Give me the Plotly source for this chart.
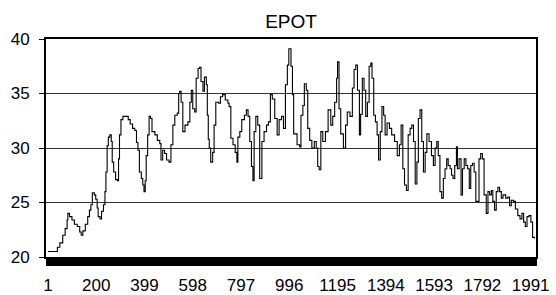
import plotly.graph_objects as go

# sample index (category) and EPOT value
step = [1, 33, 40, 50, 62, 72, 80, 83, 90, 100, 110, 122, 132, 138, 145, 155, 165, 172, 178, 184,
        192, 198, 204, 208, 216, 222, 230, 236, 240, 245, 250, 256, 262, 266, 272, 280, 288, 292, 296, 302,
        310, 322, 332,
        340, 350, 359, 366, 372, 378, 386, 392, 397, 402, 406, 412, 418, 424, 430, 442, 452, 462, 467, 474,
        482, 490, 500, 508, 516, 524, 534, 540, 544, 550, 557, 566, 578, 586, 592, 598, 606, 612, 620, 626,
        632, 640, 646, 654, 658, 662, 666,
        672, 680, 686, 693, 705, 712, 721, 732, 743, 748, 755, 764, 773, 780, 784, 792, 800, 811, 819, 826,
        833, 840, 846, 851, 858, 866, 874, 883, 892, 902, 910, 918, 926, 936, 946, 954, 964, 972, 980, 988,
        994, 998, 1003, 1009, 1014, 1028, 1039, 1044, 1052, 1058, 1066, 1072, 1080, 1089, 1099, 1107, 1113,
        1119, 1126, 1134, 1145, 1156, 1167, 1175, 1183, 1191, 1195, 1201, 1208, 1219, 1228, 1235, 1246, 1256,
        1263, 1270, 1277, 1285, 1290, 1297, 1304, 1311, 1318, 1325, 1332,
        1337, 1344, 1351, 1358, 1364, 1371, 1378, 1385, 1391, 1399, 1409, 1418, 1430, 1441, 1450, 1457, 1464,
        1471, 1479, 1486, 1494, 1501, 1508, 1515, 1522, 1528, 1535, 1542, 1549, 1556, 1563, 1572, 1582, 1590,
        1597, 1604, 1610, 1617, 1624, 1631, 1638, 1645, 1651, 1659,
        1665, 1671, 1678, 1685, 1689, 1696, 1704, 1710, 1717, 1724, 1731, 1738, 1744, 1751, 1758, 1765, 1773,
        1778, 1785, 1792, 1799, 1808, 1815, 1822, 1829, 1835, 1842, 1849, 1856, 1863, 1870, 1877, 1888, 1897,
        1904, 1911, 1920, 1928, 1938, 1947, 1955, 1962, 1969, 1976, 1984, 1992, 1999, 2007]

epot = [20.5, 20.5, 20.9, 21.3, 22.0, 22.6, 23.4, 24.0, 23.7, 23.4, 23.0, 22.8, 22.3, 22.0, 22.4, 23.0, 23.7, 24.3, 24.8, 25.9,
        25.7, 25.3, 24.5, 23.7, 23.5, 24.2, 24.8, 26.0, 27.8, 30.2, 31.0, 31.2, 30.6, 28.7, 27.8, 27.1, 27.0, 29.0, 31.2, 32.6,
        32.9, 32.9, 32.6,
        32.2, 31.8, 31.6, 30.5, 29.8, 27.8, 27.2, 26.6, 26.0, 27.0, 29.3, 31.2, 32.9, 32.7, 31.5, 31.2, 30.7, 30.4, 28.9, 29.8,
        29.5, 28.9, 28.7, 30.3, 32.1, 33.0, 33.2, 35.0, 35.2, 34.2, 31.5, 32.1, 32.4, 34.2, 35.3, 33.6, 33.3, 36.4, 37.3, 37.4,
        36.1, 35.2, 36.5, 35.8, 33.0, 30.8, 30.0,
        28.7, 29.6, 32.1, 34.2, 34.1, 34.7, 34.9, 34.4, 34.1, 33.8, 30.9, 30.3, 29.6, 28.7, 31.0, 31.5, 32.6, 33.0, 33.5, 32.9,
        30.6, 28.3, 27.0, 31.5, 32.9, 32.1, 27.2, 30.6, 31.5, 32.1, 32.4, 34.9, 34.5, 32.7, 31.2, 32.6, 32.9, 31.8, 35.8, 37.6,
        39.1, 39.1, 37.5, 34.9, 31.3, 30.3, 30.1, 33.0, 33.9, 35.9, 35.3, 31.8, 30.7, 30.0, 30.6, 30.0, 28.3,
        28.0, 31.5, 30.6, 31.5, 33.5, 32.1, 32.9, 34.2, 36.4, 37.9, 33.6, 31.3, 30.0, 32.1, 33.3, 32.9, 35.5,
        37.2, 37.6, 35.3, 31.2, 33.1, 36.4, 35.3, 32.9, 34.2, 37.5, 37.8,
        36.4, 33.0, 32.4, 31.2, 28.9, 31.5, 33.8, 33.0, 31.2, 32.3, 31.8, 31.2, 30.6, 29.3, 30.3, 32.1, 28.1,
        26.6, 26.1, 31.2, 31.8, 32.1, 30.6, 26.7, 28.7, 32.7, 33.5, 30.6, 27.8, 29.6, 31.3, 30.6, 29.3, 28.4,
        30.0, 30.6, 29.3, 26.0, 25.4, 27.2, 28.1, 29.0, 28.4, 28.1,
        27.5, 27.2, 28.4, 30.1, 28.1, 29.0, 25.7, 28.1, 29.0, 28.4, 28.1, 26.3, 28.4, 28.6, 27.8, 25.1, 25.1,
        29.0, 29.5, 29.0, 25.7, 24.0, 26.0, 25.7, 26.1, 25.1, 24.3, 26.0, 26.4, 26.0, 25.4, 25.7, 25.4, 25.5,
        24.7, 25.2, 25.1, 24.4, 23.8, 23.5, 24.0, 23.2, 22.8, 23.7, 23.8, 23.2, 21.8, 21.7]

x_tick_vals = [1, 200, 399, 598, 797, 996, 1195, 1394, 1593, 1792, 1991]
x_tick_text = [str(v) for v in x_tick_vals]
y_tick_vals = [20, 25, 30, 35, 40]

FONT = "Liberation Sans, Arial, sans-serif"

fig = go.Figure()
fig.add_trace(go.Scatter(
    x=step, y=epot, mode="lines", line=dict(color="black", width=1.1, shape="hv"),
    showlegend=False, hoverinfo="skip"))

fig.update_layout(
    width=556, height=295,
    margin=dict(l=46, r=20, t=39, b=38),
    paper_bgcolor="white", plot_bgcolor="white",
    font=dict(family=FONT, size=17, color="black"),
    title=dict(text="EPOT", x=0.5, xref="paper", xanchor="center",
               y=1 - 21.5 / 295, yref="container", yanchor="middle",
               font=dict(family=FONT, size=19, color="black"), automargin=False),
)

fig.update_xaxes(
    range=[-7, 2013], tickmode="array", tickvals=x_tick_vals, ticktext=x_tick_text,
    ticks="outside", ticklen=7, tickcolor="black", tickwidth=1,
    minor=dict(tickmode="linear", tick0=1, dtick=1, ticks="outside", ticklen=7,
               tickcolor="black", tickwidth=1, showgrid=False),
    showgrid=False, zeroline=False, showline=True, linecolor="black", linewidth=1.5,
    mirror=True, ticklabelstandoff=5, automargin=False,
    tickfont=dict(family=FONT, size=17, color="black"),
)

fig.update_yaxes(
    range=[20, 40], tickmode="array", tickvals=y_tick_vals,
    ticks="outside", ticklen=5, tickcolor="black", tickwidth=1,
    showgrid=True, gridcolor="#333333", gridwidth=1,
    zeroline=False, showline=True, linecolor="black", linewidth=2, mirror=True,
    ticklabelstandoff=6, automargin=False,
    tickfont=dict(family=FONT, size=17, color="black"),
)

fig.write_html("out.html", config={"displayModeBar": False},
               post_script="document.body.style.margin='0';document.body.style.overflow='hidden';")
